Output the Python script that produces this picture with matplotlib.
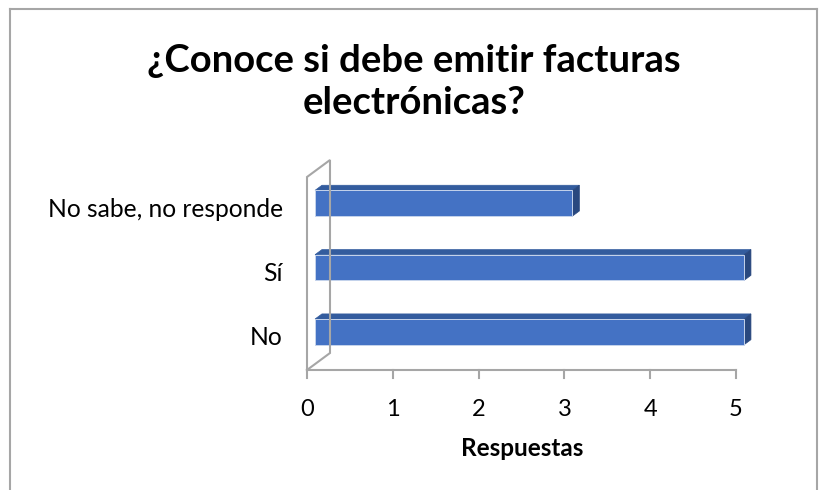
import matplotlib.pyplot as plt
from matplotlib.patches import Polygon

plt.rcParams['font.family'] = ['Lato', 'DejaVu Sans']

categories = ['No', 'Sí', 'No sabe, no responde']
values = [5, 5, 3]
xticks = [0, 1, 2, 3, 4, 5]
title = '¿Conoce si debe emitir facturas\nelectrónicas?'
xlabel = 'Respuestas'

W, H = 825, 490
fig = plt.figure(figsize=(W / 100, H / 100), dpi=100)

# outer chart border
border = fig.add_axes([10 / W, -0.05, 807 / W, (H - 9) / H + 0.05])
border.set_xticks([])
border.set_yticks([])
for s in border.spines.values():
    s.set_color('#a6a6a6')
    s.set_linewidth(1.5)

# plot area: front plane of the 3D box
ax_px = (307, 370, 429, 193)  # left, bottom(from top), width, height in pixels
ax = fig.add_axes([ax_px[0] / W, (H - ax_px[1]) / H, ax_px[2] / W, ax_px[3] / H])
ax.set_xlim(0, 5)
ax.set_ylim(-0.5, len(categories) - 0.5)
ax.axis('off')

# depth vector (pixels -> data units)
ddx = 23 / ax_px[2] * 5
ddy = 17 / ax_px[3] * len(categories)
f1, f2 = 0.35, 0.65  # bar front/back depth fractions
bh = 0.4
py = 3 / ax_px[3]  # data units per pixel, vertical
px = 5 / ax_px[2]

wall = '#a6a6a6'
ax.plot([0, 0, ddx, ddx, 0], [-0.5, 2.5, 2.5 + ddy, -0.5 + ddy, -0.5],
        color=wall, lw=1.5, clip_on=False, solid_joinstyle='miter')
ax.plot([0, 5], [-0.5, -0.5], color=wall, lw=1.5, clip_on=False)
for t in xticks:
    ax.plot([t, t], [-0.5, -0.5 - 8 * py], color=wall, lw=1.5, clip_on=False)
    ax.text(t, -0.5 - 39 * py, str(t), ha='center', va='center', fontsize=17)

ax.text((522 - 307) * px, -0.5 - 78 * py, xlabel,
        ha='center', va='center', fontsize=17.5, fontweight='bold')

for i, (c, v) in enumerate(zip(categories, values)):
    ax.text(-24 * px, i, c, ha='right', va='center', fontsize=17.7)
    x0, y0 = f1 * ddx, i - bh / 2 + f1 * ddy
    x1, y1 = f2 * ddx, i - bh / 2 + f2 * ddy
    front = [(x0, y0), (x0 + v, y0), (x0 + v, y0 + bh), (x0, y0 + bh)]
    top = [(x0, y0 + bh), (x0 + v, y0 + bh), (x1 + v, y1 + bh), (x1, y1 + bh)]
    side = [(x0 + v, y0), (x1 + v, y1), (x1 + v, y1 + bh), (x0 + v, y0 + bh)]
    ax.add_patch(Polygon(top, closed=True, fc='#335c9e', ec='#335c9e', lw=0.5, clip_on=False))
    ax.add_patch(Polygon(side, closed=True, fc='#29487f', ec='#29487f', lw=0.5, clip_on=False))
    ax.add_patch(Polygon(front, closed=True, fc='#4472c4', ec='#c5d3ec', lw=0.7, clip_on=False))

fig.text(414 / W, 1 - 82 / H, title, ha='center', va='center', fontsize=27.5,
         fontweight='bold', linespacing=1.32)

fig.savefig('out.png', dpi=100)
